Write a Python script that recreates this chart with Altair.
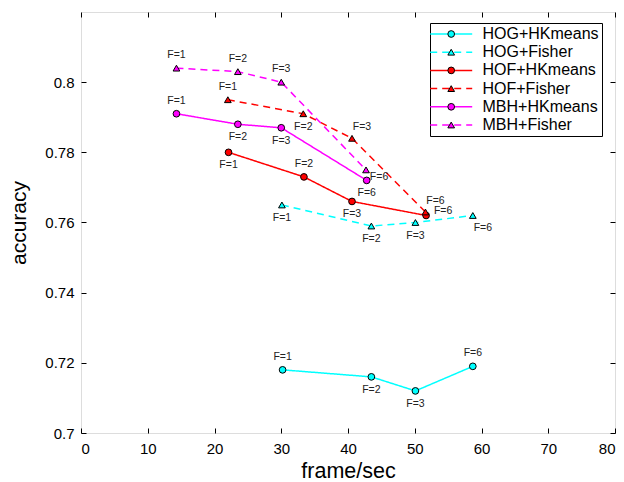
import altair as alt
import pandas as pd

# ---- data ----
series_names = ["HOG+HKmeans", "HOG+Fisher", "HOF+HKmeans", "HOF+Fisher", "MBH+HKmeans", "MBH+Fisher"]
f_labels = ["F=1", "F=2", "F=3", "F=6"]

hog_hk_fps = [30.2, 43.5, 50.1, 58.7]
hog_hk_acc = [0.718, 0.716, 0.712, 0.719]
hog_fi_fps = [30.1, 43.5, 50.1, 58.7]
hog_fi_acc = [0.765, 0.759, 0.760, 0.762]
hof_hk_fps = [22.1, 33.4, 40.6, 51.7]
hof_hk_acc = [0.780, 0.773, 0.766, 0.762]
hof_fi_fps = [22.0, 33.3, 40.6, 51.6]
hof_fi_acc = [0.795, 0.791, 0.784, 0.763]
mbh_hk_fps = [14.3, 23.5, 30.0, 42.8]
mbh_hk_acc = [0.791, 0.788, 0.787, 0.772]
mbh_fi_fps = [14.3, 23.5, 30.0, 42.7]
mbh_fi_acc = [0.804, 0.803, 0.800, 0.775]

x_ticks = [0, 10, 20, 30, 40, 50, 60, 70, 80]
y_ticks = [0.70, 0.72, 0.74, 0.76, 0.78, 0.80]

# ---- styling (not data) ----
series_colors = ["#00FFFF", "#00FFFF", "#FF0000", "#FF0000", "#FF00FF", "#FF00FF"]
series_dash = [[1, 0], [7, 5], [1, 0], [7, 5], [1, 0], [7, 5]]
series_shape = ["circle", "triangle-up", "circle", "triangle-up", "circle", "triangle-up"]
label_place = [
    ["above", "below", "below", "above"],
    ["below", "below", "below", "below_right"],
    ["below", "above", "below", "right"],
    ["above", "below", "above_right", "above_right"],
    ["above", "below", "below", "below"],
    ["above", "above", "above", "right_below"],
]
place_offsets = {
    "above": (0, -13),
    "below": (0, 13),
    "above_right": (10, -11),
    "right": (17, -4),
    "right_below": (13, 7),
    "below_right": (10, 13),
}

all_fps = [hog_hk_fps, hog_fi_fps, hof_hk_fps, hof_fi_fps, mbh_hk_fps, mbh_fi_fps]
all_acc = [hog_hk_acc, hog_fi_acc, hof_hk_acc, hof_fi_acc, mbh_hk_acc, mbh_fi_acc]

rows = []
for si, name in enumerate(series_names):
    for k in range(len(f_labels)):
        rows.append({
            "series": name,
            "series_m": name + " ",
            "fps": all_fps[si][k],
            "acc": all_acc[si][k],
            "F": f_labels[k],
            "order": k,
            "place": label_place[si][k],
        })
df = pd.DataFrame(rows)

FONT = "Liberation Sans"
LX, LY = 349, 11  # legend position inside plot
LEG_FONT = 16
SYM_OFF = 10.2
LAB_OFF = 23.3
ROW_PAD = 2.2
LEG_PAD = 3

x_scale = alt.Scale(domain=[0, 80], nice=False, zero=False)
y_scale = alt.Scale(domain=[0.70, 0.82], nice=False, zero=False)

base = alt.Chart(df)

x_main = alt.X("fps:Q", scale=x_scale,
               axis=alt.Axis(values=x_ticks, title="frame/sec", offset=-5, domain=False,
                             tickSize=5, tickColor="black", labelPadding=8,
                             labelFontSize=15, titleFontSize=21.5, titleFontWeight="normal",
                             titlePadding=4, grid=False, labelFont=FONT, titleFont=FONT,
                             labelColor="black", titleColor="black"))
y_main = alt.Y("acc:Q", scale=y_scale,
               axis=alt.Axis(values=y_ticks, title="accuracy", offset=-5, domain=False,
                             tickSize=5, tickColor="black", labelPadding=7, format=".2~f",
                             labelFontSize=15, titleFontSize=21, titleFontWeight="normal",
                             titlePadding=15, grid=False, labelFont=FONT, titleFont=FONT,
                             labelColor="black", titleColor="black"))

legend1 = alt.Legend(title=None, orient="none", legendX=LX, legendY=LY,
                     symbolType="M-6,0H6", symbolSize=49, symbolOffset=SYM_OFF,
                     symbolStrokeWidth=1.5, labelFontSize=LEG_FONT, labelFont=FONT,
                     labelColor="black", labelOffset=LAB_OFF, rowPadding=ROW_PAD,
                     padding=LEG_PAD, strokeColor="black", fillColor="white", cornerRadius=0)

lines = base.mark_line(strokeWidth=1.5).encode(
    x=x_main,
    y=y_main,
    order="order:Q",
    color=alt.Color("series:N", scale=alt.Scale(domain=series_names, range=series_colors),
                    legend=legend1),
    strokeDash=alt.StrokeDash("series:N", scale=alt.Scale(domain=series_names, range=series_dash),
                              legend=legend1),
)

legend2 = alt.Legend(title=None, orient="none", legendX=LX, legendY=LY,
                     symbolSize=45, symbolOffset=SYM_OFF, symbolStrokeColor="black",
                     symbolStrokeWidth=1, symbolOpacity=1, labelFontSize=LEG_FONT,
                     labelFont=FONT, labelOpacity=0, labelOffset=LAB_OFF, rowPadding=ROW_PAD,
                     padding=LEG_PAD)

marker_domain = [s + " " for s in series_names]
points = base.mark_point(filled=True, size=45, opacity=1, strokeWidth=1).encode(
    x=x_main,
    y=y_main,
    opacity=alt.value(1),
    stroke=alt.Stroke("series_m:N", scale=alt.Scale(domain=marker_domain,
                                                    range=["black"] * len(series_names)),
                      legend=legend2),
    fill=alt.Fill("series_m:N", scale=alt.Scale(domain=marker_domain, range=series_colors),
                  legend=legend2),
    shape=alt.Shape("series_m:N", scale=alt.Scale(domain=marker_domain, range=series_shape),
                    legend=legend2),
)

texts = []
for place, (dx, dy) in place_offsets.items():
    texts.append(
        base.transform_filter(alt.datum.place == place)
        .mark_text(fontSize=10.5, font=FONT, color="#222222", dx=dx, dy=dy, baseline="middle")
        .encode(x=x_main, y=y_main, text="F:N")
    )

inner = alt.layer(lines, points, *texts)

mirror = base.mark_point(opacity=0).encode(
    x=alt.X("fps:Q", scale=x_scale,
            axis=alt.Axis(values=x_ticks, orient="top", labels=False, title=None, offset=-5,
                          domain=False, tickSize=5, tickColor="black", grid=False)),
    y=alt.Y("acc:Q", scale=y_scale,
            axis=alt.Axis(values=y_ticks, orient="right", labels=False, title=None, offset=-5,
                          domain=False, tickSize=5, tickColor="black", grid=False)),
)

chart = alt.layer(inner, mirror).resolve_scale(x="independent", y="independent").properties(
    width=534, height=421,
    autosize=alt.AutoSizeParams(type="none"),
    padding={"left": 73, "top": 4, "right": 1, "bottom": 50},
).configure_view(stroke="black", strokeWidth=1).configure(background="white")

chart.save("out.html", embed_options={"renderer": "svg", "actions": False})
